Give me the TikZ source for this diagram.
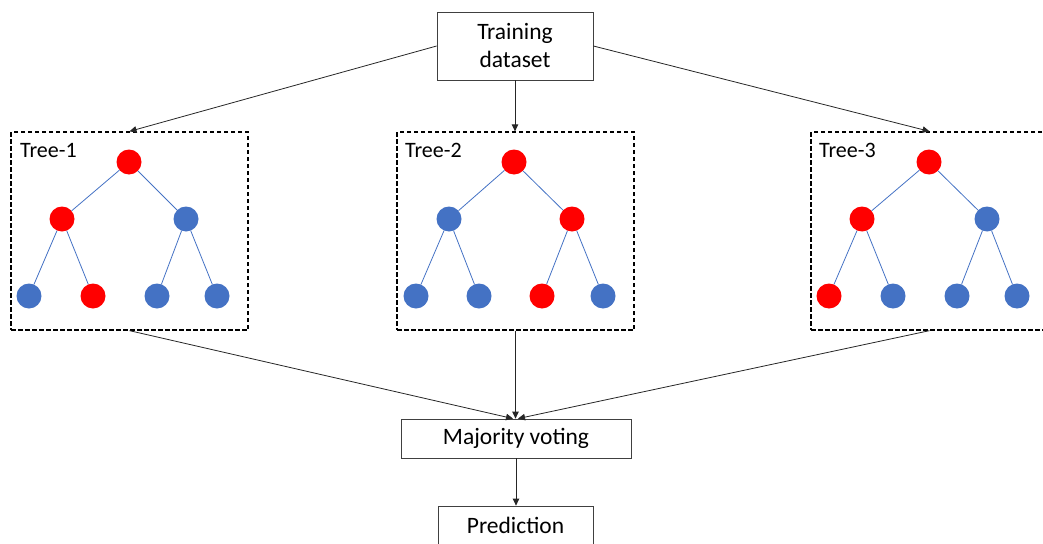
\documentclass[tikz,border=0pt]{standalone}
\usepackage{fontspec}
\setmainfont{Carlito}
\usetikzlibrary{arrows.meta,calc}
\definecolor{nblue}{HTML}{4472C4}
\definecolor{nred}{HTML}{FF0000}
\begin{document}
\begin{tikzpicture}[x=1pt,y=-1pt,
  box/.style={draw=black!75, line width=0.8pt, fill=white, inner sep=0pt, align=center,
    font=\fontsize{23.5}{28}\selectfont},
  treebox/.style={draw=black, dashed, dash pattern=on 4.5pt off 2.5pt, line width=1.3pt,
    minimum width=237pt, minimum height=198pt, inner sep=0pt},
  lbl/.style={anchor=base west, inner sep=0pt, font=\fontsize{22}{26}\selectfont},
  rn/.style={circle, fill=nred, minimum size=25pt, inner sep=0pt},
  bn/.style={circle, fill=nblue, minimum size=25pt, inner sep=0pt},
  tedge/.style={draw=nblue, line width=0.8pt},
  arr/.style={draw=black!85, line width=0.8pt, -{Triangle[length=7pt,width=6.5pt]}}
]
\clip (0,0) rectangle (1043,543);
\useasboundingbox (0,0) rectangle (1043,543);

\node[box, minimum width=156pt, minimum height=68pt] (train) at (515,46) {Training\\dataset};

\node[treebox] (t1) at (129.5,231) {};
\node[treebox] (t2) at (515.5,231) {};
\node[treebox] (t3) at (929.5,231) {};

\node[lbl] (l1) at (20,157) {Tree-1};
\node[lbl] (l2) at (405,157) {Tree-2};
\node[lbl] (l3) at (819,157) {Tree-3};

% Tree 1
\node[rn] (a0) at (129,162) {};
\node[rn] (a1) at (62,219) {};
\node[bn] (a2) at (186,219) {};
\node[bn] (a3) at (29,296) {};
\node[rn] (a4) at (93,296) {};
\node[bn] (a5) at (157,296) {};
\node[bn] (a6) at (217,296) {};
% Tree 2
\node[rn] (b0) at (514,162) {};
\node[bn] (b1) at (449,219) {};
\node[rn] (b2) at (572,219) {};
\node[bn] (b3) at (416,296) {};
\node[bn] (b4) at (479,296) {};
\node[rn] (b5) at (542,296) {};
\node[bn] (b6) at (603,296) {};
% Tree 3
\node[rn] (c0) at (929,162) {};
\node[rn] (c1) at (862,219) {};
\node[bn] (c2) at (987,219) {};
\node[rn] (c3) at (829,296) {};
\node[bn] (c4) at (893,296) {};
\node[bn] (c5) at (957,296) {};
\node[bn] (c6) at (1017,296) {};

\foreach \t in {a,b,c}{
  \draw[tedge] (\t0) -- (\t1);
  \draw[tedge] (\t0) -- (\t2);
  \draw[tedge] (\t1) -- (\t3);
  \draw[tedge] (\t1) -- (\t4);
  \draw[tedge] (\t2) -- (\t5);
  \draw[tedge] (\t2) -- (\t6);
}

\node[box, minimum width=230pt, minimum height=39pt] (vote) at (516,438.5) {Majority voting};
\node[box, minimum width=155pt, minimum height=50pt] (pred) at (515.5,531) {};
\node[inner sep=0pt, font=\fontsize{23.5}{28}\selectfont] (predt) at (515.5,525) {Prediction};

\coordinate (v1) at ($(vote.north)+(-3,0)$);
\coordinate (v2) at (t2.south |- vote.north);
\coordinate (v3) at ($(vote.north)+(2,0)$);

\draw[arr] (train.west) -- (t1.north);
\draw[arr] (train.south) -- (train.south |- t2.north);
\draw[arr] (train.east) -- (t3.north);

\draw[arr] (t1.south) -- (v1);
\draw[arr] (t2.south) -- (v2);
\draw[arr] (t3.south) -- (v3);

\draw[arr] (vote.south) -- (vote.south |- pred.north);
\end{tikzpicture}
\end{document}
